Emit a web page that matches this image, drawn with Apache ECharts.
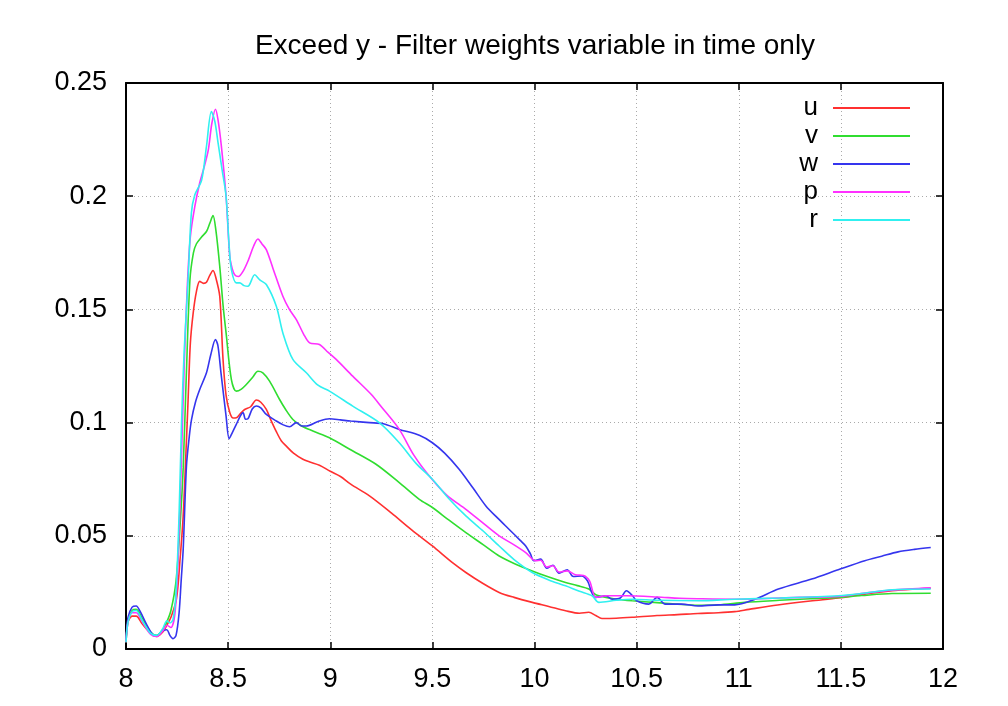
<!DOCTYPE html>
<html>
<head>
<meta charset="utf-8">
<script src="https://cdn.jsdelivr.net/npm/echarts@6/dist/echarts.min.js"></script>
<style>html,body{margin:0;padding:0;background:#fff}#c{width:1008px;height:706px}</style>
</head>
<body>
<div id="c"></div>
<script>
const titleText = 'Exceed y - Filter weights variable in time only';
const seriesNames = ['u', 'v', 'w', 'p', 'r'];
const xTicks = [8, 8.5, 9, 9.5, 10, 10.5, 11, 11.5, 12];
const yTicks = [0, 0.05, 0.1, 0.15, 0.2, 0.25];

const dataU = [[8.0,0.003],[8.01,0.012],[8.03,0.0145],[8.05,0.0145],[8.08,0.011],[8.12,0.007],[8.15,0.0055],[8.18,0.0075],[8.2,0.0105],[8.22,0.014],[8.247,0.022],[8.265,0.04],[8.28,0.0588],[8.295,0.09],[8.304,0.11],[8.315,0.135],[8.329,0.1485],[8.345,0.158],[8.361,0.1624],[8.38,0.1615],[8.394,0.162],[8.41,0.165],[8.426,0.1672],[8.44,0.164],[8.459,0.1558],[8.475,0.128],[8.49,0.112],[8.508,0.1045],[8.525,0.102],[8.54,0.1021],[8.56,0.104],[8.581,0.1058],[8.61,0.107],[8.638,0.11],[8.66,0.109],[8.687,0.1058],[8.71,0.101],[8.736,0.096],[8.76,0.092],[8.785,0.0896],[8.82,0.0865],[8.866,0.0838],[8.9,0.0826],[8.947,0.0812],[9.0,0.0785],[9.05,0.0762],[9.1,0.0728],[9.192,0.0676],[9.3,0.06],[9.4,0.0525],[9.5,0.0455],[9.6,0.038],[9.664,0.0338],[9.75,0.0288],[9.827,0.025],[9.9,0.0228],[9.989,0.0206],[10.07,0.0188],[10.152,0.0169],[10.22,0.0158],[10.266,0.0162],[10.3,0.0148],[10.33,0.0135],[10.4,0.0136],[10.478,0.014],[10.6,0.0148],[10.7,0.0152],[10.8,0.0157],[10.9,0.016],[10.98,0.0165],[11.05,0.0175],[11.19,0.0194],[11.35,0.0212],[11.487,0.0225],[11.6,0.024],[11.75,0.0257],[11.85,0.0264],[11.94,0.0268]];
const dataV = [[8.0,0.003],[8.01,0.013],[8.03,0.017],[8.05,0.0175],[8.08,0.0135],[8.12,0.0075],[8.15,0.006],[8.18,0.0085],[8.2,0.012],[8.22,0.017],[8.245,0.03],[8.265,0.055],[8.28,0.08],[8.295,0.12],[8.313,0.163],[8.33,0.175],[8.345,0.179],[8.37,0.182],[8.394,0.1844],[8.41,0.188],[8.426,0.1914],[8.44,0.185],[8.459,0.169],[8.475,0.152],[8.49,0.1396],[8.516,0.119],[8.54,0.1139],[8.565,0.1148],[8.589,0.1168],[8.62,0.12],[8.646,0.1227],[8.67,0.122],[8.703,0.1183],[8.752,0.1102],[8.78,0.106],[8.817,0.1014],[8.86,0.0985],[8.915,0.0963],[8.996,0.0933],[9.1,0.088],[9.224,0.0816],[9.338,0.0735],[9.436,0.0661],[9.5,0.0625],[9.58,0.057],[9.664,0.0514],[9.75,0.046],[9.827,0.0411],[9.9,0.0378],[9.989,0.0345],[10.07,0.0318],[10.152,0.0294],[10.21,0.028],[10.266,0.0265],[10.3,0.024],[10.35,0.0228],[10.4,0.022],[10.478,0.0213],[10.6,0.0205],[10.7,0.0198],[10.8,0.0193],[10.9,0.0195],[11.03,0.0206],[11.2,0.0215],[11.35,0.0222],[11.487,0.0228],[11.6,0.0236],[11.75,0.0245],[11.94,0.0246]];
const dataW = [[8.0,0.004],[8.01,0.014],[8.03,0.0185],[8.05,0.019],[8.07,0.0165],[8.1,0.011],[8.13,0.0065],[8.15,0.0058],[8.18,0.008],[8.2,0.0085],[8.215,0.006],[8.23,0.0046],[8.245,0.006],[8.26,0.016],[8.27,0.03],[8.28,0.044],[8.296,0.0808],[8.31,0.094],[8.321,0.1014],[8.34,0.109],[8.361,0.1146],[8.394,0.122],[8.415,0.13],[8.438,0.1367],[8.45,0.134],[8.465,0.122],[8.49,0.1029],[8.505,0.0929],[8.52,0.0955],[8.54,0.0992],[8.56,0.103],[8.573,0.1044],[8.585,0.1015],[8.597,0.1017],[8.618,0.106],[8.638,0.1073],[8.66,0.1065],[8.687,0.1036],[8.736,0.1007],[8.77,0.099],[8.801,0.0982],[8.834,0.1],[8.86,0.0985],[8.883,0.0985],[8.94,0.1005],[8.996,0.1017],[9.05,0.1012],[9.1,0.1007],[9.192,0.1],[9.26,0.0995],[9.338,0.097],[9.436,0.0944],[9.5,0.0911],[9.56,0.0865],[9.631,0.0794],[9.7,0.071],[9.762,0.0632],[9.82,0.0578],[9.875,0.0529],[9.93,0.048],[9.957,0.0455],[9.98,0.042],[9.997,0.039],[10.03,0.0397],[10.06,0.0357],[10.09,0.037],[10.12,0.0335],[10.16,0.035],[10.19,0.032],[10.23,0.0323],[10.26,0.03],[10.28,0.025],[10.3,0.0228],[10.35,0.0235],[10.38,0.022],[10.42,0.0225],[10.45,0.0257],[10.48,0.0235],[10.5,0.0213],[10.56,0.0198],[10.6,0.0228],[10.64,0.0198],[10.72,0.0198],[10.8,0.019],[10.9,0.0195],[10.98,0.0195],[11.08,0.022],[11.194,0.0265],[11.357,0.0309],[11.487,0.035],[11.617,0.039],[11.7,0.041],[11.78,0.0429],[11.86,0.044],[11.94,0.0448]];
const dataP = [[8.0,0.003],[8.01,0.012],[8.03,0.016],[8.05,0.016],[8.08,0.012],[8.12,0.0065],[8.15,0.0055],[8.18,0.008],[8.2,0.0105],[8.22,0.0095],[8.24,0.016],[8.255,0.04],[8.27,0.08],[8.285,0.125],[8.3,0.16],[8.315,0.182],[8.337,0.1955],[8.36,0.2055],[8.38,0.212],[8.403,0.2205],[8.42,0.232],[8.438,0.2384],[8.45,0.234],[8.467,0.222],[8.49,0.2],[8.508,0.1734],[8.52,0.168],[8.532,0.1653],[8.55,0.1645],[8.573,0.1668],[8.6,0.172],[8.625,0.178],[8.646,0.1811],[8.665,0.179],[8.687,0.1764],[8.72,0.168],[8.768,0.1558],[8.8,0.15],[8.834,0.1455],[8.87,0.139],[8.899,0.1352],[8.947,0.1345],[8.99,0.131],[9.029,0.1279],[9.11,0.1205],[9.2,0.1125],[9.25,0.107],[9.338,0.097],[9.41,0.0855],[9.485,0.0764],[9.57,0.068],[9.664,0.0617],[9.75,0.0555],[9.827,0.05],[9.9,0.046],[9.957,0.0426],[10.006,0.039],[10.03,0.0392],[10.06,0.0362],[10.09,0.0368],[10.12,0.034],[10.16,0.0345],[10.2,0.0328],[10.24,0.0325],[10.27,0.03],[10.3,0.0228],[10.35,0.0235],[10.45,0.0235],[10.6,0.023],[10.71,0.0224],[10.8,0.0222],[10.98,0.022],[11.1,0.0222],[11.3,0.0228],[11.487,0.0232],[11.6,0.0245],[11.75,0.026],[11.94,0.027]];
const dataR = [[8.0,0.003],[8.01,0.012],[8.03,0.0165],[8.05,0.017],[8.08,0.0125],[8.12,0.007],[8.15,0.006],[8.18,0.009],[8.2,0.0125],[8.215,0.0115],[8.23,0.013],[8.245,0.025],[8.26,0.06],[8.272,0.1],[8.285,0.132],[8.304,0.163],[8.32,0.1925],[8.337,0.2006],[8.37,0.207],[8.394,0.222],[8.418,0.2374],[8.435,0.233],[8.45,0.224],[8.47,0.212],[8.49,0.2],[8.505,0.178],[8.516,0.1676],[8.54,0.1617],[8.557,0.1617],[8.578,0.1605],[8.597,0.1602],[8.63,0.1653],[8.655,0.163],[8.687,0.161],[8.736,0.1514],[8.768,0.1396],[8.817,0.1279],[8.883,0.122],[8.94,0.1165],[8.996,0.1139],[9.11,0.1073],[9.24,0.1],[9.338,0.0911],[9.42,0.082],[9.5,0.075],[9.58,0.0665],[9.664,0.0588],[9.75,0.052],[9.827,0.0455],[9.9,0.0395],[9.989,0.0338],[10.07,0.0305],[10.152,0.0279],[10.22,0.0255],[10.282,0.0235],[10.315,0.0206],[10.4,0.0215],[10.478,0.022],[10.6,0.0215],[10.8,0.0213],[10.98,0.022],[11.2,0.0225],[11.487,0.0235],[11.6,0.0245],[11.75,0.0262],[11.94,0.0265]];

const allData = [dataU, dataV, dataW, dataP, dataR];
const colors = ['#ff3030', '#30dd30', '#3535ee', '#ff30ff', '#30f0f0'];

const FONT = 'Liberation Sans, Arial, sans-serif';
const chart = echarts.init(document.getElementById('c'), null, {renderer: 'canvas'});

const fmt = v => String(v);
const baseAxis = {
  axisLine: {show: true, onZero: false, lineStyle: {color: '#000', width: 2}},
  axisTick: {show: true, inside: true, length: 7, lineStyle: {color: '#000', width: 1.5}},
  splitLine: {show: false},
};

chart.setOption({
  animation: false,
  backgroundColor: '#fff',
  color: colors,
  title: {
    text: titleText, left: 530, top: 27, textAlign: 'center',
    textStyle: {fontFamily: FONT, fontSize: 28, fontWeight: 'normal', color: '#000'}
  },
  legend: {
    data: seriesNames, orient: 'vertical', right: 93, top: 89, align: 'right',
    itemWidth: 77, itemHeight: 2, itemGap: 0, icon: 'rect',
    textStyle: {fontFamily: FONT, fontSize: 26, color: '#000', lineHeight: 28, padding: [0, 10, 0, 0]}
  },
  grid: {left: 126, right: 65, top: 83, bottom: 57, containLabel: false},
  xAxis: [
    Object.assign({}, baseAxis, {
      type: 'value', min: 8, max: 12, interval: 0.5, position: 'bottom',
      axisLabel: {fontFamily: FONT, fontSize: 27, color: '#000', margin: 17, formatter: fmt},
      splitLine: {show: true, lineStyle: {color: '#aaa', width: 1, type: [1, 3]}}
    }),
    Object.assign({}, baseAxis, {
      type: 'value', min: 8, max: 12, interval: 0.5, position: 'top',
      axisLabel: {show: false}
    })
  ],
  yAxis: [
    Object.assign({}, baseAxis, {
      type: 'value', min: 0, max: 0.25, interval: 0.05, position: 'left',
      axisLabel: {fontFamily: FONT, fontSize: 27, color: '#000', margin: 19, formatter: fmt},
      splitLine: {show: true, lineStyle: {color: '#aaa', width: 1, type: [1, 3]}}
    }),
    Object.assign({}, baseAxis, {
      type: 'value', min: 0, max: 0.25, interval: 0.05, position: 'right',
      axisLabel: {show: false}
    })
  ],
  series: seriesNames.map((n, i) => ({
    name: n, type: 'line', data: allData[i], showSymbol: false, symbol: 'none',
    smooth: 0.3,
    lineStyle: {width: 1.6, color: colors[i]}, itemStyle: {color: colors[i]}
  }))
});
</script>
</body>
</html>
